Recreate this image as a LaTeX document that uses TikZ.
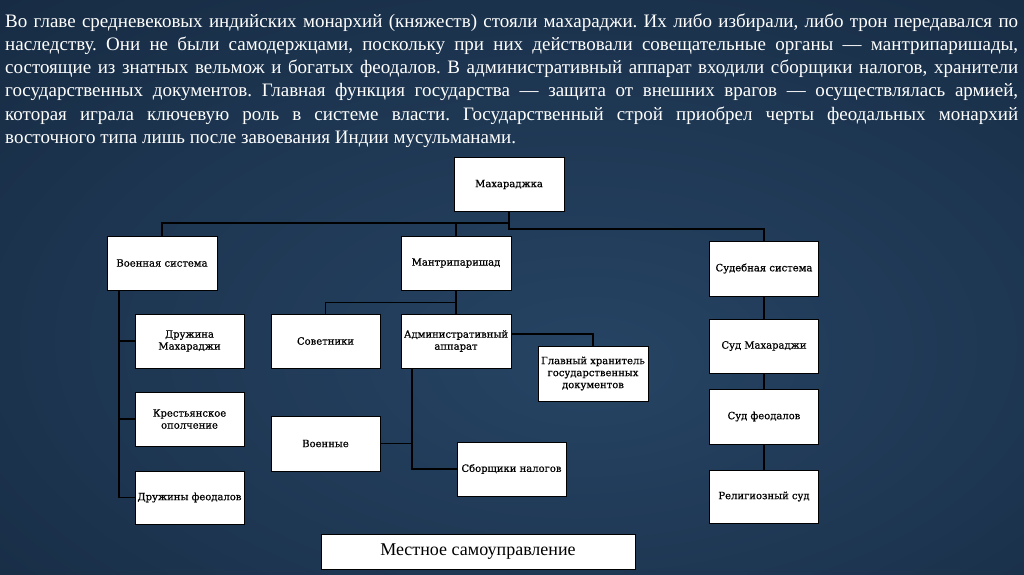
\documentclass[tikz,border=0pt]{standalone}
\usepackage{fontspec}
\setmainfont{Liberation Serif}
\newfontfamily\boxfont[FakeBold=0.7]{DejaVu Serif}
\definecolor{bgin}{RGB}{38,68,100}
\definecolor{bgmid}{RGB}{19,37,59}
\definecolor{bgout}{RGB}{8,15,25}
\pgfdeclareradialshading{slidebg}{\pgfpoint{4bp}{-7bp}}{color(0bp)=(bgin); color(50bp)=(bgmid); color(75bp)=(bgout)}
\tikzset{
  box/.style={draw=black, line width=1pt, fill=white, text=black, minimum width=110pt, minimum height=54pt, inner sep=1pt, align=center, font=\boxfont\fontsize{10}{12}\selectfont},
  link/.style={draw=black, line width=1.6pt}
}

\begin{document}
\begin{tikzpicture}[x=1pt, y=-1pt]

\shade[shading=slidebg] (0,0) rectangle (1024,574);
\useasboundingbox (0,0) rectangle (1024,574);

\node [anchor=north west, inner sep=0pt, text width=1013pt, align=justify, text=white, font=\fontsize{19}{23.2}\selectfont\frenchspacing] (intro) at (5,10.8) {\strut Во главе средневековых индийских монархий (княжеств) стояли махараджи. Их либо избирали, либо трон передавался по\linebreak наследству. Они не были самодержцами, поскольку при них действовали совещательные органы — мантрипаришады,\linebreak состоящие из знатных вельмож и богатых феодалов. В административный аппарат входили сборщики налогов, хранители\linebreak государственных документов. Главная функция государства — защита от внешних врагов — осуществлялась армией,\linebreak которая играла ключевую роль в системе власти. Государственный строй приобрел черты феодальных монархий\linebreak восточного типа лишь после завоевания Индии мусульманами.};

\node [box] (mah) at (509,184.5) {Махараджка};
\node [box] (voen) at (162,263) {Военная система};
\node [box] (mantri) at (456,263) {Мантрипаришад};
\node [box, minimum width=109pt, minimum height=55pt] (sud) at (764,268.5) {Судебная система};
\node [box, minimum width=109pt] (druzh) at (189.5,341) {Дружина\\Махараджи};
\node [box, minimum width=109pt] (sovet) at (325.5,341) {Советники};
\node [box] (admin) at (456,341) {Административный\\аппарат};
\node [box, minimum width=109pt] (krest) at (189.5,419) {Крестьянское\\ополчение};
\node [box, minimum width=109pt, minimum height=55pt] (voennye) at (325.5,443.5) {Военные};
\node [box, minimum width=109pt, minimum height=53pt] (feod) at (189.5,497.5) {Дружины феодалов};
\node [box, minimum width=109pt] (sbor) at (511.5,469) {Сборщики налогов};
\node [box, minimum height=55pt] (hran) at (593,373.5) {Главный хранитель\\государственных\\документов};
\node [box, minimum width=109pt] (sudmah) at (764,346) {Суд Махараджи};
\node [box, minimum width=109pt, minimum height=55pt] (sudfeod) at (764,416.5) {Суд феодалов};
\node [box, minimum width=109pt, minimum height=53pt] (relig) at (764,496.5) {Религиозный суд};
\node [box, minimum width=314pt, minimum height=35pt, font=\fontsize{18}{20}\selectfont] (mestn) at (478,552) {Местное самоуправление};

\coordinate (vbus) at ([xshift=-43pt]voen.south);
\coordinate (abus) at ([xshift=-44pt]admin.south);

\draw[link] (mah.south) -- ++(0,17) -| (sud.north);
\draw[link] (voen.north) |- ([yshift=-11pt]mah.south);
\draw[link] (mantri.north) -- ++(0,-13);
\draw[link] (vbus) |- (feod.west);
\foreach \n in {druzh,krest} \draw[link] (vbus |- \n.west) -- (\n.west);
\draw[link] (mantri.south) -- (admin.north);
\draw[link] (mantri.south) ++(0,12) -| (sovet.north);
\draw[link] ([yshift=7pt]admin.east) -| (hran.north);
\draw[link] (abus) |- (sbor.west);
\draw[link] (voennye.east) -- (abus |- voennye.east);
\draw[link] (sud.south) -- (sudmah.north);
\draw[link] (sudmah.south) -- (sudfeod.north);
\draw[link] (sudfeod.south) -- (relig.north);

\end{tikzpicture}
\end{document}
